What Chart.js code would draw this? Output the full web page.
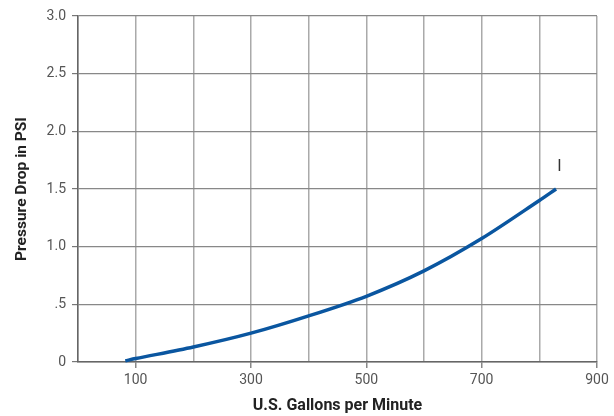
<!DOCTYPE html>
<html>
<head>
<meta charset="utf-8">
<script src="https://cdn.jsdelivr.net/npm/chart.js@4"></script>
<style>
  html, body { margin: 0; padding: 0; background: #fff; }
  #wrap { width: 614px; height: 416px; }
</style>
</head>
<body>
<div id="wrap"><canvas id="chart" width="614" height="416"></canvas></div>
<script>
// flow (US gpm) and pressure drop (psi)
const gpm = [82, 100, 200, 300, 400, 500, 600, 700, 800, 829];
const psi = [0.01, 0.03, 0.13, 0.25, 0.40, 0.57, 0.79, 1.07, 1.40, 1.50];

// tick labels
const xTickLabels = ['', '100', '', '300', '', '500', '', '700', '', '900'];
const yTickLabels = ['0', '.5', '1.0', '1.5', '2.0', '2.5', '3.0'];

// small text mark next to the end of the curve
const noteText = 'I';
const notePos = [835, 1.69];

const canvas = document.getElementById('chart');

// draws the little note near the curve end
const notePlugin = {
  id: 'note',
  afterDatasetsDraw(chart) {
    const c = chart.ctx;
    const x = chart.scales.x.getPixelForValue(notePos[0]);
    const y = chart.scales.y.getPixelForValue(notePos[1]);
    c.save();
    c.font = '16px Roboto';
    c.fillStyle = '#333';
    c.textAlign = 'center';
    c.textBaseline = 'middle';
    c.fillText(noteText, x, y);
    c.restore();
  }
};

new Chart(canvas, {
  type: 'line',
  data: {
    datasets: [{
      data: gpm.map((g, i) => ({ x: g, y: psi[i] })),
      borderColor: '#0a56a0',
      borderWidth: 3.5,
      pointRadius: 0,
      tension: 0.3,
      fill: false,
      clip: false
    }]
  },
  options: {
    responsive: false,
    animation: false,
    layout: { padding: { top: 16, right: 17, left: 0, bottom: 0 } },
    plugins: { legend: { display: false }, tooltip: { enabled: false } },
    scales: {
      x: {
        type: 'linear',
        min: 0,
        max: 900,
        afterFit(scale) { scale.height = 54; },
        border: { color: '#666', width: 1.5 },
        grid: {
          color: '#aaa',
          lineWidth: 1.5,
          tickLength: 6,
          // only labelled ticks stick out below the axis
          tickColor: ctx => (xTickLabels[ctx.index] ? '#888' : 'rgba(0,0,0,0)')
        },
        ticks: {
          stepSize: 100,
          autoSkip: false,
          maxRotation: 0,
          padding: 4,
          color: '#555',
          font: { family: 'Roboto', size: 14 },
          callback: (v, i) => xTickLabels[i]
        },
        title: {
          display: true,
          text: 'U.S. Gallons per Minute',
          color: '#222',
          font: { family: 'Roboto', size: 16, weight: 'bold' },
          padding: { top: 0, bottom: 0 }
        }
      },
      y: {
        min: 0,
        max: 3,
        afterFit(scale) { scale.width = 78; },
        border: { color: '#666', width: 1.5 },
        grid: {
          color: '#888',
          lineWidth: 1.2,
          tickLength: 6,
          tickColor: '#777'
        },
        ticks: {
          stepSize: 0.5,
          padding: 6,
          color: '#555',
          font: { family: 'Roboto', size: 14 },
          callback: (v, i) => yTickLabels[i]
        },
        title: {
          display: true,
          text: 'Pressure Drop in PSI',
          color: '#222',
          font: { family: 'Roboto', size: 15.5, weight: 'bold' },
          padding: { top: 13, bottom: 0 }
        }
      }
    }
  },
  plugins: [notePlugin]
});
</script>
</body>
</html>
